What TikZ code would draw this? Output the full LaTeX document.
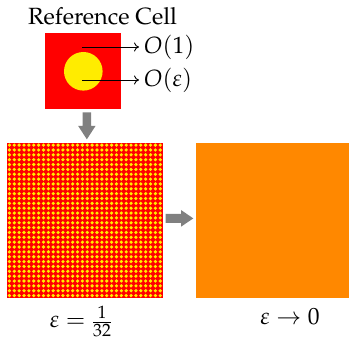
\documentclass[tikz,border=0pt]{standalone}
\usepackage[T1]{fontenc}
\usepackage{mathpazo}
\usetikzlibrary{arrows.meta}
\definecolor{cellred}{RGB}{255,0,0}
\definecolor{cellyellow}{RGB}{255,236,0}
\definecolor{limorange}{RGB}{255,136,0}
\definecolor{arrgray}{RGB}{128,128,128}
\tikzset{
  lbl/.style={inner sep=0pt, font=\fontsize{23.5}{26}\selectfont},
  fatarrow/.style={draw=none, fill=arrgray},
  thinarrow/.style={-{To[length=5pt,width=9pt]}, line width=0.9pt}
}
\begin{document}
\begin{tikzpicture}[x=1pt,y=-1pt]
\useasboundingbox (0,0) rectangle (349,337);
% reference cell
\fill[cellred] (45,33) rectangle (121,109);
\fill[cellyellow] (83.3,71.3) circle (19.3);
\node[lbl] (title) at (102.5,16) {Reference Cell};
\coordinate (a1) at (83,47);
\coordinate (a2) at (83,80);
\node[lbl, anchor=west] (o1) at (144,47) {$O(1)$};
\node[lbl, anchor=west] (oe) at (144,80) {$O(\varepsilon)$};
\draw[thinarrow] ([xshift=-1pt]a1) -- ([xshift=-5pt]o1.west);
\draw[thinarrow] ([xshift=-1pt]a2) -- ([xshift=-5pt]oe.west);
% down arrow
\fill[fatarrow] (82.7,112.3) -- (91,112.3) -- (91,126) -- (95.5,126) -- (86.85,139.3) -- (78.2,126) -- (82.7,126) -- cycle;
% grid
\fill[cellred] (7,142.7) rectangle (162.7,298);
\foreach \i in {0,...,31}{
  \foreach \j in {0,...,31}{
    \fill[cellyellow] ({7+(\i+0.5)*155.7/32},{142.7+(\j+0.5)*155.3/32}) circle (1.8);
  }
}
% right arrow
\fill[fatarrow] (165.7,214) -- (181,214) -- (181,210) -- (193.3,218.4) -- (181,226.7) -- (181,223) -- (165.7,223) -- cycle;
% orange square
\fill[limorange] (196,142.7) rectangle (349,298);
\node[lbl, anchor=south] (eps1) at (81,336.5) {$\varepsilon=\frac{1}{32}$};
\node[lbl, anchor=base] (eps0) at (290,325) {$\varepsilon\to 0$};
\end{tikzpicture}
\end{document}
